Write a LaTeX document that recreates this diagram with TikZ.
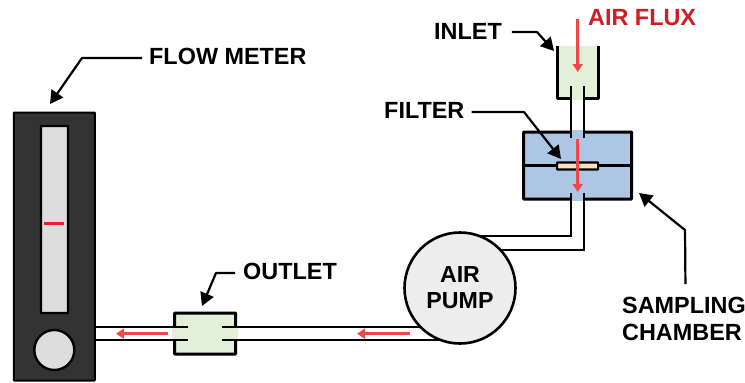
\documentclass[tikz,border=0pt]{standalone}
\usepackage{fontspec}
\setmainfont{Liberation Sans}
\usetikzlibrary{arrows.meta, positioning, calc}

\definecolor{meterdark}{HTML}{333333}
\definecolor{metergrey}{HTML}{DDDDDD}
\definecolor{pumpgrey}{HTML}{EDEDED}
\definecolor{boxgreen}{HTML}{E2EFD9}
\definecolor{boxblue}{HTML}{AEC6E6}
\definecolor{filterfill}{HTML}{FBE0C5}
\definecolor{fluxred}{HTML}{F04848}
\definecolor{labelred}{HTML}{D01C24}
\definecolor{floatred}{HTML}{ED2028}

\begin{document}
\begin{tikzpicture}[
        x=1pt, y=-1pt,
        part/.style={rectangle, draw=black, line width=3pt, rounded corners=0.6pt, inner sep=0pt},
        meter/.style={part, line width=2pt, fill=meterdark, minimum width=81pt, minimum height=268pt},
        tube/.style={part, line width=2.4pt, fill=metergrey, minimum width=27pt, minimum height=187pt},
        ball/.style={circle, draw=black, line width=2.4pt, fill=metergrey, minimum size=40pt, inner sep=0pt},
        pump/.style={circle, draw=black, line width=2.6pt, fill=pumpgrey, minimum size=111pt, inner sep=0pt, align=center, font=\bfseries\fontsize{23.2}{26}\selectfont},
        tag/.style={inner sep=0pt, font=\bfseries\fontsize{23.4}{27}\selectfont, align=left},
        pipe/.style={line width=2.2pt, draw=black},
        leader/.style={line width=2.2pt, line join=round, -{Triangle[length=13pt, width=14pt]}, draw=black},
        flux/.style={line width=2.5pt, draw=fluxred, -{Triangle[length=8pt, width=10pt]}}
    ]
    \useasboundingbox (0,0) rectangle (745,383);

    % Flow meter
    \node[meter] (meter) at (54.3,246.5) {};
    \node[tube] (tube) at (54.5,219.5) {};
    \node[ball] (ball) at (54.3,350) {};
    \draw[line width=3pt, draw=floatred] (44,223) -- (64,223);

    % Outlet box
    \node[part, fill=boxgreen, minimum width=61pt, minimum height=41pt] (outlet) at (205.2,333.5) {};
    \fill[boxgreen] (172,328) rectangle (177,339);
    \fill[boxgreen] (233,328) rectangle (238,339);

    % Sampling chamber
    \node[part, fill=boxblue, minimum width=108pt, minimum height=67pt] (chamber) at (577.6,165.5) {};
    \fill[boxblue] (572,130) rectangle (583,135);
    \fill[boxblue] (572,196) rectangle (583,201);
    \draw[line width=2.6pt] (chamber.west) -- (chamber.east);
    \node[part, line width=2.2pt, fill=filterfill, minimum width=41pt, minimum height=7pt] (filter) at (577.6,166) {};

    % Inlet cup
    \fill[boxgreen] (557,46) rectangle (598,99);
    \draw[line width=3pt, line join=round] (557,46) coordinate (cupl) -- (557,98.5) -- (598,98.5) -- (598,46) coordinate (cupr);
    \fill[boxgreen] (572,96) rectangle (583,100);

    % Pipes
    \draw[pipe] (571,86) -- (571,138);
    \draw[pipe] (584,86) -- (584,138);
    \draw[pipe] (571,193) -- (571,236) -- (470,236);
    \draw[pipe] (584,193) -- (584,250) -- (470,250);
    \draw[pipe] (95,327) -- (188,327);
    \draw[pipe] (95,340) -- (188,340);
    \draw[pipe] (222,327) -- (450,327);
    \draw[pipe] (222,340) -- (450,340);

    % Air pump
    \node[pump] (airpump) at (460,288) {AIR\\PUMP};

    % Air flow
    \draw[flux] (577.7,19) -- (577.7,72);
    \draw[flux] (577.7,139) -- (577.7,192);
    \draw[flux] (168,333.7) -- (116,333.7);
    \draw[flux] (410,333.7) -- (357,333.7);

    % Labels
    \node[tag, anchor=west] (flowlabel) at (149,56) {FLOW METER};
    \node[tag, anchor=west] (inletlabel) at (434,31) {INLET};
    \node[tag, anchor=west] (filterlabel) at (384,110) {FILTER};
    \node[tag, anchor=west] (outletlabel) at (243,271) {OUTLET};
    \node[tag, anchor=west] (samplinglabel) at (622,319) {SAMPLING\\CHAMBER};
    \node[tag, anchor=west, text=labelred] (fluxlabel) at (588,17.5) {AIR FLUX};

    % Leaders
    \draw[leader] (flowlabel.west) ++(-7,2) -- (82,58) -- (50,104);
    \draw[leader] (inletlabel.east) ++(10,1) -- (537,32) -- (554,51);
    \draw[leader] (filterlabel.east) ++(7,2) -- (524,112) -- (561,159);
    \draw[leader] (outletlabel.west) ++(-8,2) -- (216,273) -- (202,306);
    \draw[leader] (samplinglabel.north) ++(1.5,-13) -- (685,230) -- (639,193);

\end{tikzpicture}
\end{document}
